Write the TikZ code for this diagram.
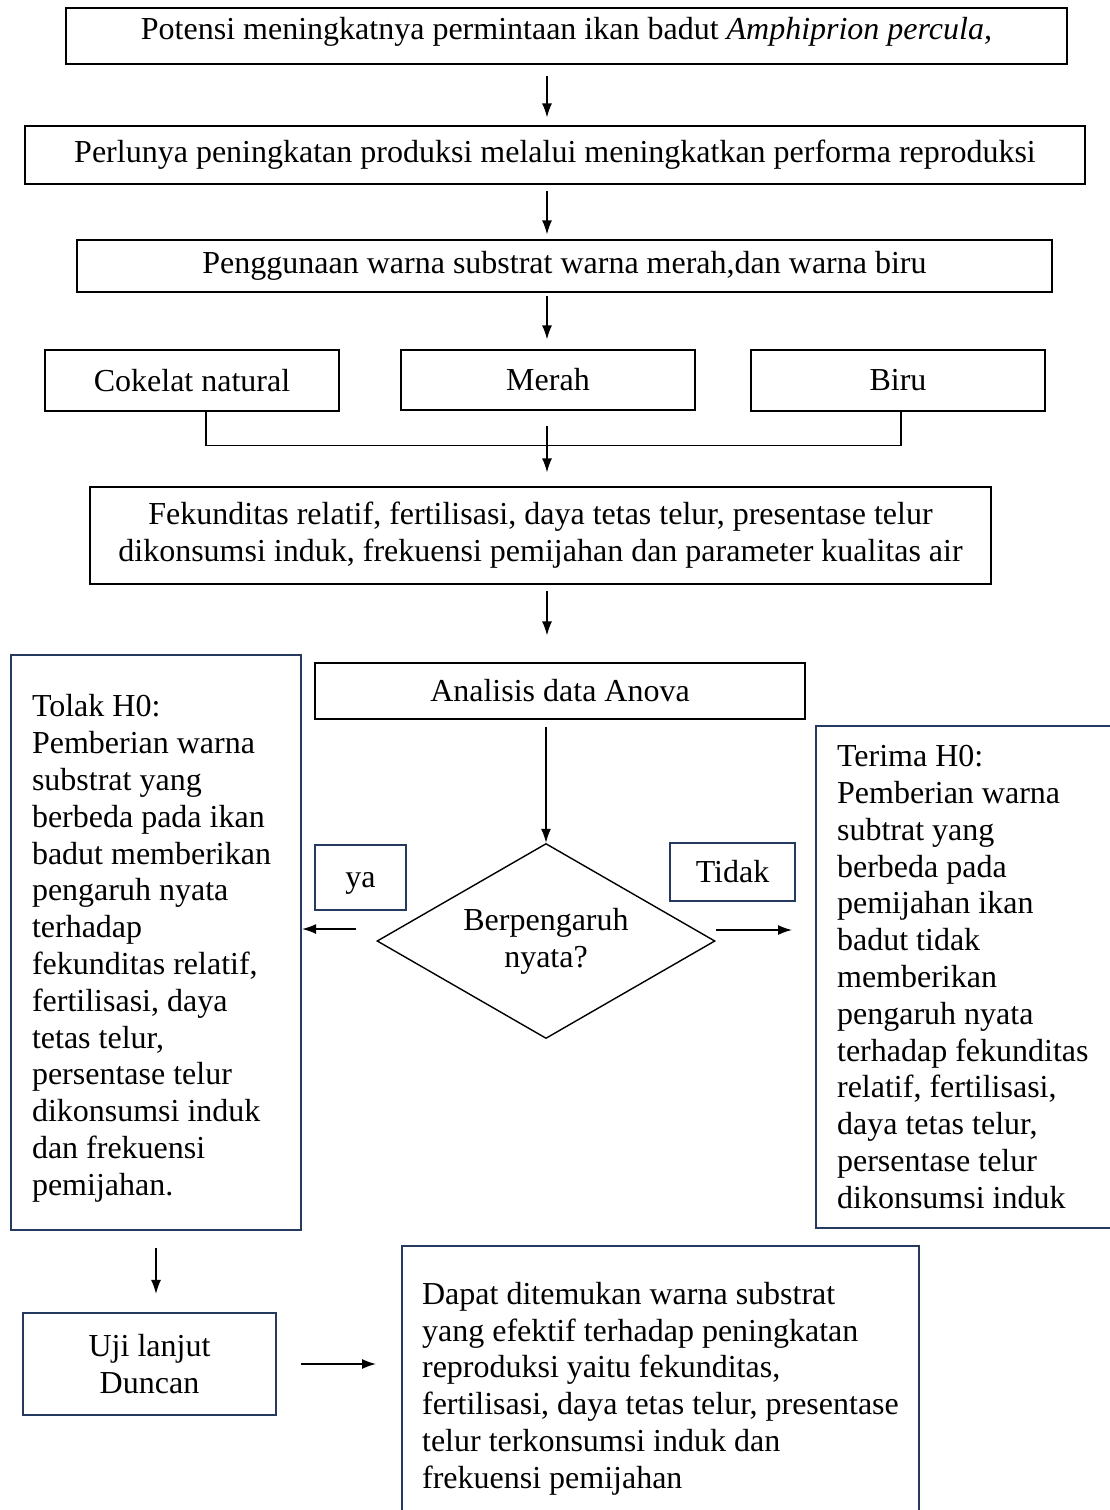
\documentclass[tikz,border=0pt]{standalone}
\usepackage{fontspec}
\setmainfont{Liberation Serif}
\usetikzlibrary{arrows.meta,shapes.geometric}
\definecolor{navy}{RGB}{38,58,96}
\newcommand\bigfnt{\fontsize{32}{36.8}\selectfont}

\begin{document}
\begin{tikzpicture}[x=1pt,y=-1pt, %% y runs downwards (pixel like)
    box/.style={draw,line width=1.2pt,inner sep=0pt,font=\bigfnt},
    bluebox/.style={draw=navy,line width=2.2pt,inner xsep=21pt,inner ysep=0pt,
      font=\bigfnt,align=flush left},
    arr/.style={-{Latex[length=14pt,width=10pt]},line width=1.4pt}]
    \useasboundingbox (0,0) rectangle (1109,1510);%
    \coordinate (spine) at (547,0);%

    %% upper chain
    \node[box,minimum width=1001pt,minimum height=56pt,text height=12pt,text depth=5pt]
    (potensi) at (566.5,36)
    {Potensi meningkatnya permintaan ikan badut \textit{Amphiprion percula,}};%
    \node[box,minimum width=1060pt,minimum height=58pt] (perlu) at (555,155)
    {Perlunya peningkatan produksi melalui meningkatkan performa reproduksi};%
    \node[box,minimum width=975pt,minimum height=52pt] (guna) at (564.5,266)
    {Penggunaan warna substrat warna merah,dan warna biru};%
    \node[box,minimum width=294pt,minimum height=61pt] (coklat) at (192,380.5) {Cokelat natural};%
    \node[box,minimum width=294pt,minimum height=60pt] (merah) at (548,380) {Merah};%
    \node[box,minimum width=294pt,minimum height=61pt] (biru) at (898,380.5) {Biru};%
    \node[box,align=center,minimum width=901pt,minimum height=97pt] (fek) at (540.5,535.5)
    {Fekunditas relatif, fertilisasi, daya tetas telur, presentase telur\\
      dikonsumsi induk, frekuensi pemijahan dan parameter kualitas air};%
    \node[box,minimum width=490pt,minimum height=56pt] (anova) at (560,691) {Analisis data Anova};%

    \draw[arr,shorten <=11pt,shorten >=8pt] (potensi.south -| spine) -- (perlu.north -| spine);%
    \draw[arr,shorten <=6pt,shorten >=5pt] (perlu.south -| spine) -- (guna.north -| spine);%
    \draw[arr,shorten <=3pt,shorten >=10pt] (guna.south -| spine) -- (merah.north -| spine);%
    \draw[line width=1.2pt] ([xshift=14pt]coklat.south) -- ++(0,34) -| ([xshift=3pt]biru.south);%
    \draw[arr,shorten <=15pt,shorten >=14pt] (merah.south -| spine) -- (fek.north -| spine);%
    \draw[arr,shorten <=6pt,shorten >=27pt] (fek.south -| spine) -- (anova.north -| spine);%

    %% decision
    \node[draw,diamond,line width=1.4pt,aspect=1.73,inner sep=0pt,minimum width=338pt,
    minimum height=195pt,font=\bigfnt,align=center] (nyata) at (546,941) {Berpengaruh\\nyata?};%
    \draw[arr,shorten <=7pt] (anova.south -| nyata.north) -- (nyata.north);%
    \node[bluebox,align=center,inner xsep=0pt,minimum width=91pt,minimum height=65pt,
    text height=19pt,text depth=0pt] (ya) at (360.5,877.5) {ya};%
    \node[bluebox,align=center,inner xsep=0pt,minimum width=125pt,minimum height=58pt]
    (tidak) at (732.5,872) {Tidak};%

    \node[bluebox,text width=248pt,minimum height=575pt] (tolak) at (156,942.5)
    {\rule{0pt}{34pt}Tolak H0:\\ Pemberian warna\\ substrat yang\\ berbeda pada ikan\\
      badut memberikan\\ pengaruh nyata\\ terhadap\\ fekunditas relatif,\\
      fertilisasi, daya\\ tetas telur,\\ persentase telur\\ dikonsumsi induk\\
      dan frekuensi\\ pemijahan.};%
    \node[bluebox,text width=290pt,minimum height=502pt,anchor=west] (terima) at (815,977)
    {Terima H0:\\ Pemberian warna\\ subtrat yang\\ berbeda pada\\ pemijahan ikan\\
      badut tidak\\ memberikan\\ pengaruh nyata\\ terhadap fekunditas\\
      relatif, fertilisasi,\\ daya tetas telur,\\ persentase telur\\ dikonsumsi induk};%
    \draw[arr,shorten <=20pt] ([yshift=12pt]nyata.west) -- ([yshift=12pt]nyata.west -| tolak.east);%
    \draw[arr,shorten >=23pt] ([yshift=11pt]nyata.east) -- ([yshift=11pt]nyata.east -| terima.west);%

    %% follow up
    \node[bluebox,align=center,inner xsep=0pt,minimum width=253pt,minimum height=102pt]
    (uji) at (149.5,1364) {Uji lanjut\\Duncan};%
    \node[bluebox,text width=477pt,inner xsep=20pt,inner ysep=36pt,anchor=north west]
    (dapat) at (401,1245)
    {Dapat ditemukan warna substrat\\ yang efektif terhadap peningkatan\\
      reproduksi yaitu fekunditas,\\ fertilisasi,~daya~tetas~telur,~presentase\\
      telur terkonsumsi induk dan\\ frekuensi pemijahan};%
    \draw[arr,shorten <=17pt,shorten >=18pt] (tolak.south) -- (tolak.south |- uji.north);%
    \draw[arr,shorten <=24pt,shorten >=25pt] (uji.east) -- (uji.east -| dapat.west);%
  \end{tikzpicture}
\end{document}
